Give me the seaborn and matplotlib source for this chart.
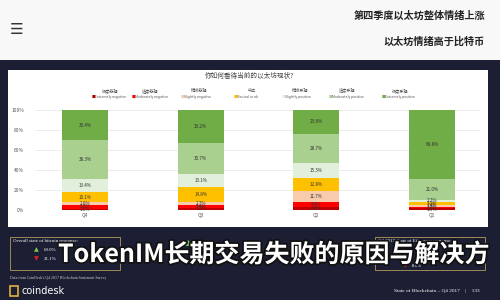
import numpy as np
import pandas as pd
import matplotlib
matplotlib.use("Agg")
import matplotlib.pyplot as plt
import matplotlib.patheffects as pe
from matplotlib.patches import Rectangle
import seaborn as sns

# ---------------- data ----------------
quarters = ["Q4", "Q3", "Q2", "Q1"]
cat_en = ["Extremely negative", "Moderately negative", "Slightly negative", "Neutral or ok",
          "Slightly positive", "Moderately positive", "Extremely positive"]
cat_zh = ["极度悲观", "适度悲观", "稍微悲观", "中立", "稍微乐观", "适度乐观", "极度乐观"]
ext_neg = [1.5, 2.1, 2.8, 1.6]
mod_neg = [3.7, 3.4, 4.9, 1.9]
sli_neg = [2.6, 2.7, 11.7, 1.4]
neutral = [10.1, 14.8, 12.8, 3.1]
sli_pos = [13.4, 13.1, 15.3, 2.2]
mod_pos = [38.3, 30.7, 28.7, 21.0]
ext_pos = [30.4, 33.2, 23.8, 68.8]
yticks = [0, 20, 40, 60, 80, 100]
title = "你如何看待当前的以太坊现状?"
headline = ["第四季度以太坊整体情绪上涨", "以太坊情绪高于比特币"]
overlay = "TokenIM长期交易失败的原因与解决方"

colors = ["#c00000", "#ff0000", "#f8cbad", "#ffc000", "#e2efda", "#a9d08e", "#70ad47"]
series = [ext_neg, mod_neg, sli_neg, neutral, sli_pos, mod_pos, ext_pos]

sns.set_theme(style="white")
plt.rcParams["font.family"] = ["Noto Sans CJK SC", "DejaVu Sans"]

W, H = 500, 300
fig = plt.figure(figsize=(5, 3), dpi=100)
fig.patch.set_facecolor("#1c1f33")

def fx(px):
    return px / W

def fy(py):
    return 1 - py / H

# top white band
fig.patches.append(Rectangle((0, fy(60)), 1, 60 / H, transform=fig.transFigure,
                             facecolor="#f8f8f8", edgecolor="none", zorder=0))
fig.text(fx(17), fy(29), "☰", fontsize=11, color="#333333", ha="center", va="center",
         family=["DejaVu Sans"])
fig.text(fx(485), fy(16), headline[0], fontsize=7.3, color="#222222", ha="right", va="center",
         fontweight="bold")
fig.text(fx(485), fy(42), headline[1], fontsize=7.3, color="#222222", ha="right", va="center",
         fontweight="bold")

# white chart panel
fig.patches.append(Rectangle((fx(8), fy(227)), fx(480), 157 / H, transform=fig.transFigure,
                             facecolor="white", edgecolor="none", zorder=0))
fig.text(fx(250), fy(76), title, fontsize=4.8, color="#444444", ha="center", va="center",
         zorder=3)

# legend
leg_x = [110, 150, 199, 252, 300, 347, 400]
for x, zh, en, c in zip(leg_x, cat_zh, cat_en, colors):
    fig.text(fx(x), fy(91), zh, fontsize=3.0, color="#555555", ha="center", va="center",
             zorder=3)
    fig.text(fx(x - 17), fy(97), "■", fontsize=2.8, color=c, ha="center", va="center",
             family=["DejaVu Sans"], zorder=3)
    fig.text(fx(x - 15), fy(97), en, fontsize=2.5, color="#555555", ha="left", va="center",
             zorder=3)

# main axes
ax = fig.add_axes([fx(35), fy(210), fx(445), 100 / H])
ax.set_zorder(5)
ax.set_facecolor("none")
cum = np.cumsum(np.array(series), axis=0)
for i in range(len(series) - 1, -1, -1):
    d = pd.DataFrame({"quarter": quarters, "value": cum[i]})
    sns.barplot(data=d, x="quarter", y="value", order=quarters, color=colors[i],
                saturation=1, width=0.4, linewidth=0, ax=ax, zorder=3)
for i, s in enumerate(series):
    for j, v in enumerate(s):
        mid = cum[i][j] - v / 2
        ax.text(j, mid, f"{v:.1f}%", fontsize=3.3, color="#333333", ha="center",
                va="center", zorder=5)
ax.set_xlim(-0.432, 3.415)
ax.set_ylim(0, 100)
ax.set_yticks(yticks)
ax.set_yticklabels([f"{t}%" for t in yticks], fontsize=3.5, color="#555555")
ax.tick_params(axis="x", labelsize=3.5, colors="#555555", pad=2, length=0)
ax.tick_params(axis="y", pad=8, length=0)
ax.set_xlabel("")
ax.set_ylabel("")
ax.yaxis.grid(True, color="#e4e4e4", linewidth=0.5, zorder=0)
ax.set_axisbelow(True)
for sp in ax.spines.values():
    sp.set_visible(False)

# bottom boxes
for x0 in [10, 375]:
    fig.patches.append(Rectangle((fx(x0), fy(270)), fx(110), 33 / H, transform=fig.transFigure,
                                 facecolor="none", edgecolor="#b59a5a", linewidth=0.6))
fig.text(fx(13), fy(241), "Overall state of bitcoin response:", fontsize=3.5, color="white",
         family=["Liberation Serif"], va="center")
fig.text(fx(36), fy(250), "▲", fontsize=4.5, color="#7ec850", ha="center", va="center",
         family=["DejaVu Sans"])
fig.text(fx(44), fy(250), "69.0%", fontsize=3.5, color="white", family=["Liberation Serif"],
         va="center")
fig.text(fx(36), fy(259), "▼", fontsize=4.5, color="#e02020", ha="center", va="center",
         family=["DejaVu Sans"])
fig.text(fx(44), fy(259), "21.1%", fontsize=3.5, color="white", family=["Liberation Serif"],
         va="center")
fig.text(fx(378), fy(241), "Q4 2017 State of Ethereum response:", fontsize=3.5, color="white",
         family=["Liberation Serif"], va="center")
fig.text(fx(405), fy(266), "▼", fontsize=4.5, color="#e02020", ha="center", va="center",
         family=["DejaVu Sans"])
fig.text(fx(412), fy(266), "8.6%", fontsize=3.5, color="white", family=["Liberation Serif"],
         va="center")
fig.text(fx(188), fy(243), "▲", fontsize=6, color="#7ec850", ha="center", va="center",
         family=["DejaVu Sans"])
fig.text(fx(10), fy(278), "Data from CoinDesk's Q4 2017 Blockchain Sentiment Survey",
         fontsize=2.8, color="#cccccc", family=["Liberation Serif"], va="center")
fig.patches.append(Rectangle((fx(10), fy(296)), fx(8), 10 / H, transform=fig.transFigure,
                             facecolor="none", edgecolor="#e0b040", linewidth=1.2))
fig.text(fx(21), fy(291), "coindesk", fontsize=7, color="white", va="center",
         family=["DejaVu Sans"])
fig.text(fx(480), fy(291), "State of Blockchain – Q4 2017    |    133", fontsize=3.8,
         color="white", ha="right", va="center", family=["Liberation Serif"])

# overlay headline
fig.text(fx(58), fy(255), overlay, fontsize=18, color="white", ha="left", va="center",
         fontweight="bold", zorder=10,
         path_effects=[pe.withStroke(linewidth=2.5, foreground="#111111")])

fig.savefig("out.png", dpi=100, facecolor=fig.get_facecolor())
